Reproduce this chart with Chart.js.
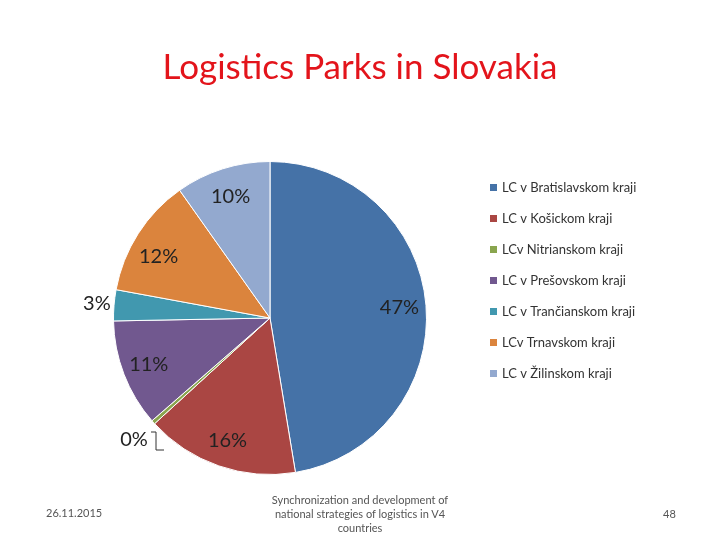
<!DOCTYPE html>
<html><head><meta charset="utf-8">
<script src="https://cdn.jsdelivr.net/npm/chart.js@4"></script>
<style>
body{margin:0;background:#fff;font-family:Lato,"Open Sans",sans-serif;}
#wrap{position:relative;width:720px;height:540px;}
canvas{position:absolute;left:0;top:0;}
.t{position:absolute;color:#555;}
</style></head><body>
<div id="wrap">
<canvas id="c" width="720" height="540"></canvas>
<div class="t" style="left:0;width:720px;top:44px;text-align:center;font-size:35px;color:#e3141b;">Logistics Parks in Slovakia</div>
<div class="t" style="left:46px;top:506px;font-size:11px;">26.11.2015</div>
<div class="t" style="left:262px;width:196px;top:493px;text-align:center;font-size:11px;line-height:14px;">Synchronization and development of national strategies of logistics in V4 countries</div>
<div class="t" style="left:663px;top:507px;font-size:11px;">48</div>
</div>
<script>
const categories=["LC v Bratislavskom kraji","LC v Košickom kraji","LCv Nitrianskom kraji","LC v Prešovskom kraji","LC v Trančianskom kraji","LCv Trnavskom kraji","LC v Žilinskom kraji"];
const values=[47.4,15.8,0.4,11.1,3.2,12.3,9.8];
const pctLabels=["47%","16%","0%","11%","3%","12%","10%"];
const colors=["#4572A7","#AA4643","#89A54E","#71588F","#4198AF","#DB843D","#93A9CF"];
const overlay={id:'ov',afterDraw(ch){
 const ctx=ch.ctx;ctx.save();
 ctx.font='20px Lato, "Open Sans", sans-serif';ctx.fillStyle='#222';ctx.textAlign='center';ctx.textBaseline='middle';
 ch.getDatasetMeta(0).data.forEach((a,i)=>{
  const mid=(a.startAngle+a.endAngle)/2;let f=0.83;
  if(i===4)f=1.11;
  let x=a.x+Math.cos(mid)*a.outerRadius*f,y=a.y+Math.sin(mid)*a.outerRadius*f;
  if(i===5){x-=2;y+=8;}
  if(i===6){y+=2;}
  if(i===2){x=a.x-136;y=a.y+122;
   ctx.strokeStyle='#333';ctx.lineWidth=1;ctx.beginPath();
   ctx.moveTo(x+17,y-8);ctx.lineTo(x+22,y-8);ctx.lineTo(x+22,y+10);ctx.lineTo(x+30,y+10);ctx.stroke();}
  ctx.fillText(pctLabels[i],x,y);
 });
 ctx.font='13px Lato, "Open Sans", sans-serif';ctx.textAlign='left';
 categories.forEach((c,i)=>{const y=188+i*31;ctx.fillStyle=colors[i];ctx.fillRect(490,y-4,7,7);ctx.fillStyle='#333';ctx.fillText(c,502,y);});
 ctx.restore();}};
new Chart(document.getElementById('c'),{type:'pie',
 data:{labels:categories,datasets:[{data:values,backgroundColor:colors,borderColor:'#fff',borderWidth:1}]},
 options:{responsive:false,animation:false,layout:{padding:{left:113,top:161,right:293,bottom:65}},
  plugins:{legend:{display:false},tooltip:{enabled:false}}},
 plugins:[overlay]});
</script></body></html>
